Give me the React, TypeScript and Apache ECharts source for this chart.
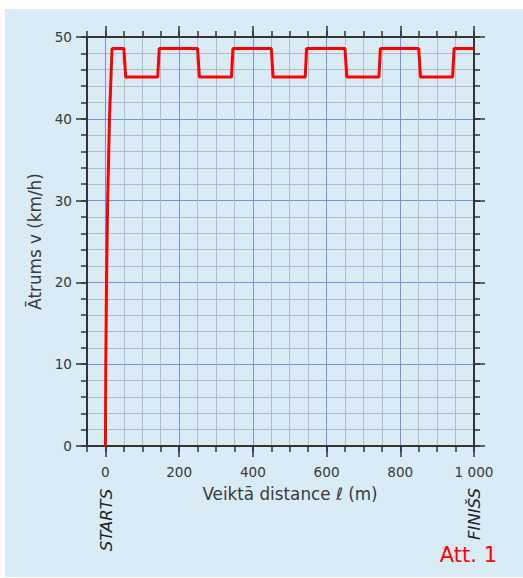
import React, { useEffect, useRef } from "react";
import * as echarts from "echarts";

// Data
const distance = [0, 1, 3, 6, 11, 15, 18, 50, 55, 142, 146, 250, 255, 342, 346, 450, 455, 542, 546, 650, 655, 742, 746, 850, 855, 942, 946, 1000];
const speed = [0, 10, 20, 30, 40, 45, 48.6, 48.6, 45.1, 45.1, 48.6, 48.6, 45.1, 45.1, 48.6, 48.6, 45.1, 45.1, 48.6, 48.6, 45.1, 45.1, 48.6, 48.6, 45.1, 45.1, 48.6, 48.6];

const xTickValues = [0, 200, 400, 600, 800, 1000];
const xTickLabels = ["0", "200", "400", "600", "800", "1 000"];
const yTickValues = [0, 10, 20, 30, 40, 50];

const xTitle = "Veiktā distance ℓ (m)";
const yTitle = "Ātrums v (km/h)";
const startLabel = "STARTS";
const finishLabel = "FINIŠS";
const figLabel = "Att. 1";

const FONT = "DejaVu Sans";
const AXIS = "#333333";
const TEXT = "#3a3a3a";
const GRAY = "#b3bcc4";
const BLUE = "#8088f2";

export default function App() {
  const ref = useRef<HTMLDivElement>(null);
  useEffect(() => {
    if (!ref.current) return;
    const chart = echarts.init(ref.current, null, { renderer: "svg" });
    const xMinor = (pos: string, split: boolean) => ({
      type: "value",
      min: -50,
      max: 1000,
      interval: 50,
      position: pos,
      axisLine: { show: true, onZero: false, lineStyle: { color: AXIS, width: 2 } },
      axisTick: { show: true, length: 6, lineStyle: { color: AXIS, width: 1.5 } },
      axisLabel: { show: false },
      splitLine: { show: split, lineStyle: { color: GRAY, width: 1 } },
    });
    const xMajor = (pos: string, labels: boolean, split: boolean) => ({
      type: "value",
      min: -50,
      max: 1000,
      position: pos,
      axisLine: { show: false, onZero: false },
      axisTick: { show: true, length: 11, customValues: xTickValues, lineStyle: { color: AXIS, width: 1.5 } },
      axisLabel: {
        show: labels,
        customValues: xTickValues,
        margin: 19,
        fontSize: 13.6,
        fontFamily: FONT,
        color: TEXT,
        formatter: (v: number) => {
          const i = xTickValues.indexOf(v);
          return i >= 0 ? xTickLabels[i] : "";
        },
      },
      splitLine: { show: split, lineStyle: { color: BLUE, width: 1 } },
      ...(labels
        ? {
            name: xTitle,
            nameLocation: "middle",
            nameGap: 39,
            nameTextStyle: { fontSize: 16.8, fontFamily: FONT, color: TEXT, padding: [0, 0, 0, 19] },
          }
        : {}),
    });
    const yMinor = (pos: string, split: boolean) => ({
      type: "value",
      min: 0,
      max: 50,
      interval: 2,
      position: pos,
      axisLine: { show: true, onZero: false, lineStyle: { color: AXIS, width: 2 } },
      axisTick: { show: true, length: 6, lineStyle: { color: AXIS, width: 1.5 } },
      axisLabel: { show: false },
      splitLine: { show: split, lineStyle: { color: GRAY, width: 1 } },
    });
    const yMajor = (pos: string, labels: boolean, split: boolean) => ({
      type: "value",
      min: 0,
      max: 50,
      interval: 10,
      position: pos,
      axisLine: { show: false, onZero: false },
      axisTick: { show: true, length: 11, lineStyle: { color: AXIS, width: 1.5 } },
      axisLabel: {
        show: labels,
        margin: 15,
        fontSize: 13.6,
        fontFamily: FONT,
        color: TEXT,
        formatter: (v: number) => (yTickValues.indexOf(v) >= 0 ? String(v) : ""),
      },
      splitLine: { show: split, lineStyle: { color: BLUE, width: 1 } },
      ...(labels
        ? {
            name: yTitle,
            nameLocation: "middle",
            nameGap: 36,
            nameRotate: 90,
            nameTextStyle: { fontSize: 16.8, fontFamily: FONT, color: TEXT },
          }
        : {}),
    });

    chart.setOption({
      animation: false,
      backgroundColor: "#ffffff",
      textStyle: { fontFamily: FONT },
      graphic: [
        {
          type: "rect",
          z: -10,
          silent: true,
          shape: { x: 5, y: 9, width: 518, height: 568 },
          style: { fill: "#d9ecf5" },
        },
        {
          type: "text",
          x: 106,
          y: 520,
          rotation: Math.PI / 2,
          style: {
            text: startLabel,
            fontSize: 16.5,
            fontStyle: "italic",
            fontFamily: FONT,
            fill: "#222",
            align: "center",
            verticalAlign: "middle",
          },
        },
        {
          type: "text",
          x: 474,
          y: 514,
          rotation: Math.PI / 2,
          style: {
            text: finishLabel,
            fontSize: 16.5,
            fontStyle: "italic",
            fontFamily: FONT,
            fill: "#222",
            align: "center",
            verticalAlign: "middle",
          },
        },
        {
          type: "text",
          x: 497,
          y: 555,
          style: {
            text: figLabel,
            fontSize: 21,
            fontFamily: FONT,
            fill: "#ff0000",
            align: "right",
            verticalAlign: "middle",
          },
        },
      ],
      grid: { left: 87, right: 49, top: 37, bottom: 132, containLabel: false },
      xAxis: [xMinor("bottom", true), xMajor("bottom", true, true), xMinor("top", false), xMajor("top", false, false)],
      yAxis: [yMinor("left", true), yMajor("left", true, true), yMinor("right", false), yMajor("right", false, false)],
      series: [
        {
          type: "line",
          xAxisIndex: 0,
          yAxisIndex: 0,
          data: distance.map((d, i) => [d, speed[i]]),
          showSymbol: false,
          symbol: "none",
          lineStyle: { color: "#ff0000", width: 3 },
          z: 10,
        },
      ],
    });
    return () => chart.dispose();
  }, []);
  return <div ref={ref} style={{ position: "fixed", left: 0, top: 0, width: 523, height: 578 }} />;
}
